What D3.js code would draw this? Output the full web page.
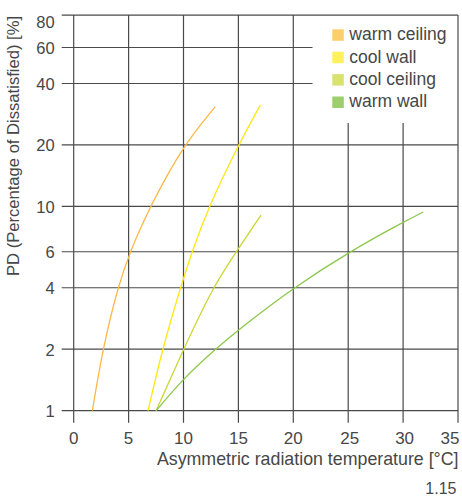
<!DOCTYPE html>
<html>
<head>
<meta charset="utf-8">
<script src="https://cdn.jsdelivr.net/npm/d3@7"></script>
<style>
  html, body { margin: 0; padding: 0; background: #fff; }
  svg { display: block; }
  text { font-family: "Liberation Sans", Arial, sans-serif; fill: #474747; }
</style>
</head>
<body>
<svg id="chart" width="462" height="497"></svg>
<script>
// ---------- data ----------
const seriesNames = ["warm ceiling", "cool wall", "cool ceiling", "warm wall"];
const lineColors = ["#fbb848", "#ffe812", "#c9d832", "#8cc84a"];
const swatchColors = ["#fdcf6c", "#fff15c", "#d9e26c", "#9ccf6c"];

const warmCeilingX  = [1.7, 2.64, 4.0, 5.12, 6.95, 10.0, 12.9];
const warmCeilingPD = [1, 2, 4, 6, 10, 20, 30.8];

const coolWallX  = [6.77, 8.07, 9.72, 10.77, 12.3, 15.0, 17.0];
const coolWallPD = [1, 2, 4, 6, 10, 20, 31.4];

const coolCeilingX  = [7.5, 10.0, 12.65, 14.8, 17.06];
const coolCeilingPD = [1, 2, 4, 6, 9.08];

const warmWallX  = [7.5, 10.0, 12.9, 15.0, 20.0, 25.1, 30.0, 31.84];
const warmWallPD = [1, 1.44, 2, 2.49, 4, 6, 8.38, 9.39];

const xTicks = [0, 5, 10, 15, 20, 25, 30, 35];
const yTicks = [1, 2, 4, 6, 10, 20, 40, 60, 80];
const yFrameTop = 86.5;   // value at the top frame line

const xTitle = "Asymmetric radiation temperature [°C]";
const yTitle = "PD (Percentage of Dissatisfied) [%]";
const figNumber = "1.15";

// ---------- layout ----------
const plotLeft = 73.7, plotRight = 458, plotBottom = 410.7;
const tickLen = 12;
const legendLeft = 312.5, legendBottom = 123;

const svg = d3.select("#chart");
const x = d3.scaleLinear().domain([0, 35]).range([plotLeft, plotRight]);
const y = d3.scaleLog().domain([1, 80]).range([plotBottom, 22.0]);
const plotTop = y(yFrameTop);

const gridColor = "#4a4a4a";
const g = svg.append("g");

// horizontal grid lines (with left ticks)
yTicks.forEach(v => {
  const yy = v === 80 ? plotTop : y(v);
  const xEnd = (v === 40 || v === 60) ? legendLeft : plotRight;
  g.append("line")
    .attr("x1", plotLeft - tickLen).attr("x2", xEnd)
    .attr("y1", yy).attr("y2", yy)
    .attr("stroke", gridColor).attr("stroke-width", 1.2);
});

// vertical grid lines (with bottom ticks)
xTicks.forEach(v => {
  const xx = x(v);
  const yStart = (xx > legendLeft && v !== 35) ? legendBottom : plotTop;
  g.append("line")
    .attr("x1", xx).attr("x2", xx)
    .attr("y1", yStart).attr("y2", plotBottom + tickLen)
    .attr("stroke", gridColor).attr("stroke-width", 1.2);
});

// y tick labels
yTicks.forEach(v => {
  svg.append("text")
    .attr("x", plotLeft - 19)
    .attr("y", y(v) + 0.5)
    .attr("dy", "0.36em")
    .attr("text-anchor", "end")
    .style("font-size", "16.5px")
    .text(v);
});

// x tick labels
xTicks.forEach((v, i) => {
  const last = i === xTicks.length - 1;
  svg.append("text")
    .attr("x", last ? 459.5 : x(v) + (v >= 25 ? 1.5 : 0))
    .attr("y", 444)
    .attr("text-anchor", last ? "end" : "middle")
    .style("font-size", "17px")
    .text(v);
});

// axis titles
svg.append("text")
  .attr("x", 458.5).attr("y", 465)
  .attr("text-anchor", "end")
  .style("font-size", "17.8px")
  .text(xTitle);

svg.append("text")
  .attr("transform", "translate(18.5,146) rotate(-90)")
  .attr("text-anchor", "middle")
  .style("font-size", "16.6px")
  .text(yTitle);

svg.append("text")
  .attr("x", 456.5).attr("y", 493.5)
  .attr("text-anchor", "end")
  .style("font-size", "16px")
  .text(figNumber);

// curves
const seriesX = [warmCeilingX, coolWallX, coolCeilingX, warmWallX];
const seriesPD = [warmCeilingPD, coolWallPD, coolCeilingPD, warmWallPD];
const line = d3.line().x(d => x(d[0])).y(d => y(d[1])).curve(d3.curveBasis);

seriesNames.forEach((name, i) => {
  const pts = seriesX[i].map((v, j) => [v, seriesPD[i][j]]);
  svg.append("path")
    .datum(pts)
    .attr("d", line)
    .attr("fill", "none")
    .attr("stroke", lineColors[i])
    .attr("stroke-width", 1.3);
});

// legend
const legend = svg.append("g").attr("transform", "translate(332.3,29.3)");
seriesNames.forEach((name, i) => {
  const row = legend.append("g").attr("transform", `translate(0,${i * 22.4})`);
  row.append("rect")
    .attr("width", 11.5).attr("height", 11.5)
    .attr("fill", swatchColors[i]);
  row.append("text")
    .attr("x", 17).attr("y", 10.8)
    .style("font-size", "17.5px")
    .text(name);
});
</script>
</body>
</html>
